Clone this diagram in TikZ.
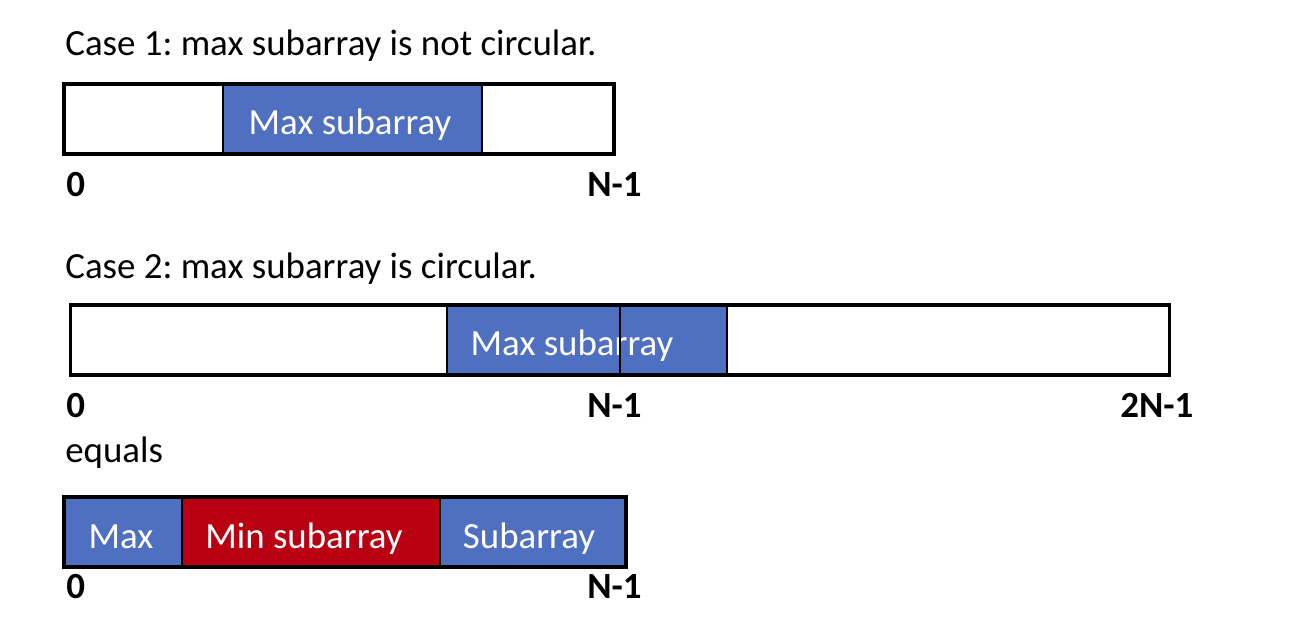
\documentclass[tikz,border=0pt]{standalone}
\usepackage{fontspec}
\setmainfont{Carlito}
\frenchspacing
\definecolor{segblue}{HTML}{4F6FC1}
\definecolor{segred}{HTML}{B80012}
\tikzset{
  px/.style={x=0.02cm,y=-0.02cm},
  txt/.style={font=\fontsize{21}{25}\selectfont, inner sep=0pt, anchor=base west},
  idx/.style={font=\fontsize{21}{25}\selectfont\bfseries, inner sep=0pt, anchor=base west},
  frame/.style={draw=black, line width=1.8pt, minimum height=1.4cm, inner sep=0pt},
  seg/.style={minimum height=1.4cm, inner sep=0pt, draw=black, line width=0.8pt},
  intext/.style={font=\fontsize{21}{25}\selectfont, text=white, inner sep=0pt, anchor=base},
}
\begin{document}
\begin{tikzpicture}[px]
\useasboundingbox (0,0) rectangle (1300,640);
% Case 1
\node[txt] (t1) at (65,55) {Case 1: max subarray is not circular.};
\node[seg, fill=segblue, minimum width=5.18cm] (m1) at (352.5,119) {};
\node[frame, minimum width=11cm] (c1) at (339,119) {};
\node[intext] (m1t) at (350,134) {Max subarray};
\node[idx] (z1) at (66,196) {0};
\node[idx] (n1) at (587,196) {N-1};
% Case 2
\node[txt] (t2) at (65,278) {Case 2: max subarray is circular.};
\node[seg, fill=segblue, minimum width=5.6cm] (m2) at (587,340) {};
\node[frame, minimum width=22cm] (c2) at (620,340) {};
\node[intext] (m2t) at (572,355) {Max subarray};
\coordinate (d2) at (620,340);
\draw[line width=1.2pt] (d2 |- c2.north) -- (d2 |- c2.south);
\node[idx] (z2) at (66,417) {0};
\node[idx] (n2) at (587,417) {N-1};
\node[idx] (nn2) at (1120,417) {2N-1};
\node[txt] (eq) at (65,462) {equals};
% Case 2 decomposition
\node[seg, fill=segblue, minimum width=2.36cm] (a3) at (123,532) {};
\node[seg, fill=segred, minimum width=5.16cm] (b3) at (311,532) {};
\node[seg, fill=segblue, minimum width=3.72cm] (c3) at (533,532) {};
\node[frame, minimum width=11.24cm] (f3) at (345,532) {};
\node[intext] (a3t) at (121,548) {Max};
\node[intext] (b3t) at (304,548) {Min subarray};
\node[intext] (c3t) at (529,548) {Subarray};
\node[idx] (z3) at (66,598) {0};
\node[idx] (n3) at (587,598) {N-1};
\end{tikzpicture}
\end{document}
